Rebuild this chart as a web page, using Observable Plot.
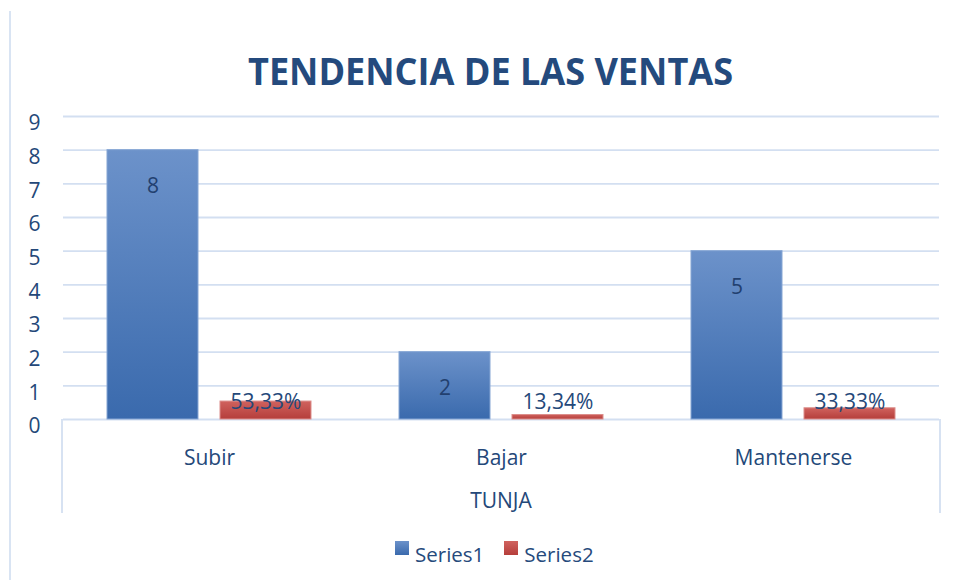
<!DOCTYPE html>
<html>
<head>
<meta charset="utf-8">
<script src="https://cdn.jsdelivr.net/npm/d3@7"></script>
<script src="https://cdn.jsdelivr.net/npm/@observablehq/plot@0.6"></script>
<style>
  html, body { margin: 0; padding: 0; background: #ffffff; }
  #wrap { position: relative; width: 957px; height: 580px; overflow: hidden; font-family: "Open Sans", sans-serif; }
  #border { position: absolute; left: 9px; top: 11px; width: 2px; height: 569px; background: #d9e4f3; }
  #legend { position: absolute; left: 395px; top: 544px; display: flex; gap: 20px; font-size: 20.5px; line-height: 20px; color: #264a7c; }
  #legend .item { position: relative; padding-left: 20px; white-space: nowrap; }
  #legend .sw { position: absolute; left: 0; top: -3px; width: 14px; height: 14px; }
</style>
</head>
<body>
<div id="wrap"><div id="border"></div></div>
<script>
// ---- data ----
const title = "TENDENCIA DE LAS VENTAS";
const groupLabel = "TUNJA";
const categories = ["Subir", "Bajar", "Mantenerse"];
const seriesNames = ["Series1", "Series2"];
const series1 = [8, 2, 5];
const series2 = [0.5333, 0.1334, 0.3333];
const series2Labels = ["53,33%", "13,34%", "33,33%"];
const yTicks = [0, 1, 2, 3, 4, 5, 6, 7, 8, 9];

// ---- styles ----
const textColor = "#244879";
const gridColor = "#d3dff1";
const gradTop = ["#6c92ca", "#d0625e"];
const gradBottom = ["#3a6aad", "#b53e3b"];
const barStroke = ["#86a6d4", "#dc8e8b"];

const rows = categories.flatMap((c, i) => [
  {category: c, series: seriesNames[0], value: series1[i], label: String(series1[i])},
  {category: c, series: seriesNames[1], value: series2[i], label: series2Labels[i]}
]);
const rows1 = rows.filter(d => d.series === seriesNames[0]);
const rows2 = rows.filter(d => d.series === seriesNames[1]);

const W = 957, H = 580, mL = 62, mR = 17, mT = 116, mB = 161;

const hasAxisMarks = typeof Plot.axisY === "function" && typeof Plot.axisFx === "function";

const marks = [
  Plot.ruleY(yTicks, {stroke: gridColor, strokeWidth: 1.8}),
  Plot.barY(rows, {fx: "category", x: "series", y: "value", fill: "series",
    stroke: d => barStroke[seriesNames.indexOf(d.series)], strokeWidth: 1}),
  Plot.text(rows1, {fx: "category", x: "series", y: "value", text: "label", dy: 36.5,
    fill: "#22406f", fontSize: 21}),
  Plot.text(rows2, {fx: "category", x: "series", y: 0, text: "label", dy: -17,
    fill: textColor, fontSize: 21})
];
if (hasAxisMarks) {
  marks.push(Plot.axisY(yTicks, {tickSize: 0, tickPadding: 23, dy: 7, fontSize: 21, fill: textColor, label: null}));
  marks.push(Plot.axisFx({anchor: "bottom", tickSize: 0, tickPadding: 31, fontSize: 21, fill: textColor, label: null}));
}

const plot = Plot.plot({
  width: W, height: H,
  marginLeft: mL, marginRight: mR, marginTop: mT, marginBottom: mB,
  style: {fontFamily: "Open Sans", fontSize: "21px", color: textColor, background: "transparent", overflow: "visible"},
  x: {domain: seriesNames, axis: null, paddingInner: 0.195, paddingOuter: 0.389},
  fx: hasAxisMarks ? {domain: categories, padding: 0}
                   : {domain: categories, padding: 0, axis: "bottom", tickSize: 0, tickPadding: 31, label: null},
  y: hasAxisMarks ? {domain: [0, 9]}
                  : {domain: [0, 9], ticks: yTicks, tickSize: 0, tickPadding: 23, label: null},
  color: {domain: seriesNames, range: ["url(#gradS1)", "url(#gradS2)"]},
  marks
});

const wrap = document.getElementById("wrap");
plot.style.position = "absolute";
plot.style.left = "0px";
plot.style.top = "0px";
wrap.appendChild(plot);

const svg = d3.select(plot);
const defs = svg.insert("defs", ":first-child");
seriesNames.forEach((s, i) => {
  const g = defs.append("linearGradient").attr("id", "gradS" + (i + 1))
    .attr("x1", 0).attr("y1", 0).attr("x2", 0).attr("y2", 1);
  g.append("stop").attr("offset", "0%").attr("stop-color", gradTop[i]);
  g.append("stop").attr("offset", "100%").attr("stop-color", gradBottom[i]);
});

const yScale = plot.scale("y");
const y0 = yScale.apply(0);
// category-axis box lines
[mL, W - mR].forEach(x => {
  svg.append("line").attr("x1", x).attr("x2", x).attr("y1", y0).attr("y2", 513)
    .attr("stroke", gridColor).attr("stroke-width", 1.8);
});
// group label
svg.append("text").attr("x", (mL + W - mR) / 2).attr("y", 508)
  .attr("text-anchor", "middle").attr("fill", textColor)
  .attr("font-family", "Open Sans").attr("font-size", 21).text(groupLabel);
// title
svg.append("text").attr("x", 490.5).attr("y", 85)
  .attr("text-anchor", "middle").attr("fill", "#244a7d")
  .attr("font-family", "Open Sans").attr("font-weight", "bold").attr("font-size", 38)
  .attr("textLength", 485).attr("lengthAdjust", "spacingAndGlyphs").text(title);

// legend
const legend = d3.select(wrap).append("div").attr("id", "legend");
seriesNames.forEach((s, i) => {
  const it = legend.append("div").attr("class", "item");
  it.append("span").attr("class", "sw")
    .style("background", `linear-gradient(${gradTop[i]}, ${gradBottom[i]})`);
  it.append("span").text(s);
});
</script>
</body>
</html>
